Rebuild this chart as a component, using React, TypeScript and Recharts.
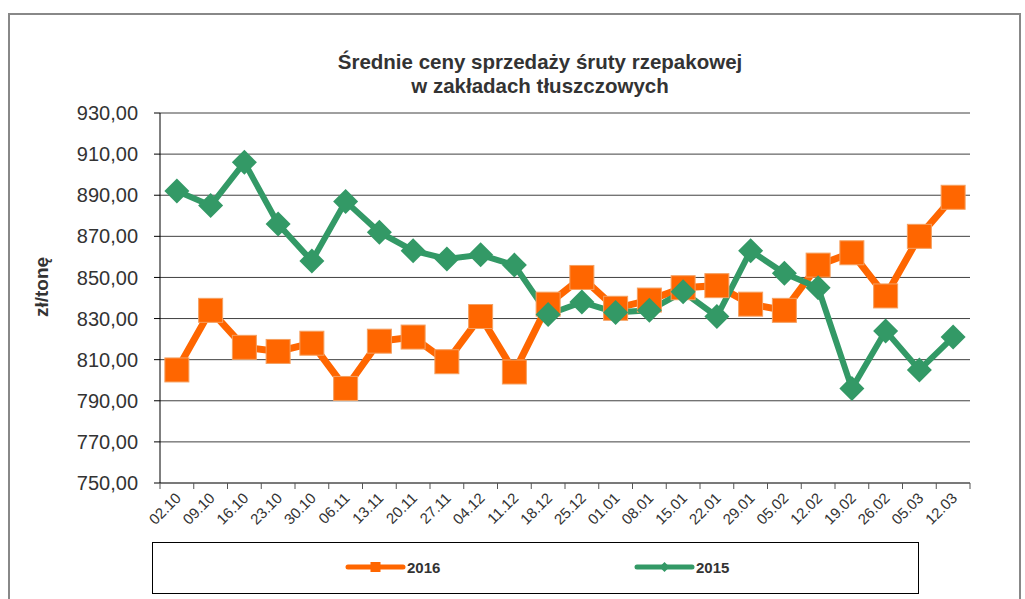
import { LineChart, Line, XAxis, YAxis, CartesianGrid } from 'recharts';

// Średnie ceny sprzedaży śruty rzepakowej (zł/tonę)
const categories = [
  '02.10', '09.10', '16.10', '23.10', '30.10', '06.11', '13.11', '20.11',
  '27.11', '04.12', '11.12', '18.12', '25.12', '01.01', '08.01', '15.01',
  '22.01', '29.01', '05.02', '12.02', '19.02', '26.02', '05.03', '12.03',
];
const values2016 = [
  805, 834, 816, 814, 818, 796, 819, 821, 809, 831, 804, 837,
  850, 835, 839, 845, 846, 837, 834, 856, 862, 841, 870, 889,
];
const values2015 = [
  892, 885, 906, 876, 858, 887, 872, 863, 859, 861, 856, 832,
  838, 833, 834, 843, 831, 863, 852, 845, 796, 824, 805, 821,
];
const yTicks = [750, 770, 790, 810, 830, 850, 870, 890, 910, 930];

const ORANGE = '#FF6600';
const GREEN = '#339966';
const FONT = 'Arial, "Liberation Sans", sans-serif';

const W = 1025;
const H = 599;
const PLOT_LEFT = 160;
const PLOT_RIGHT = 970;
const BAND = (PLOT_RIGHT - PLOT_LEFT) / categories.length;

const chartData = categories.map((c, i) => ({
  date: c,
  v2016: values2016[i],
  v2015: values2015[i],
}));

const fmt = (v: number) => v.toFixed(2).replace('.', ',');

function SquareDot(props: any) {
  const { cx, cy, index } = props;
  if (cx == null || cy == null) return null;
  return (
    <rect
      key={`sq-${index}`}
      x={cx - 12}
      y={cy - 12}
      width={24}
      height={24}
      fill={ORANGE}
      stroke="#F5A060"
      strokeWidth={1}
    />
  );
}

function DiamondDot(props: any) {
  const { cx, cy, index } = props;
  if (cx == null || cy == null) return null;
  const r = 12.5;
  return (
    <polygon
      key={`dm-${index}`}
      points={`${cx},${cy - r} ${cx + r},${cy} ${cx},${cy + r} ${cx - r},${cy}`}
      fill={GREEN}
    />
  );
}

function DateTick(props: any) {
  const { x, y, payload, index } = props;
  const last = index === categories.length - 1;
  return (
    <g transform={`translate(${x},${y})`}>
      <line x1={-BAND / 2} y1={0} x2={-BAND / 2} y2={6} stroke="#555" />
      {last && <line x1={BAND / 2} y1={0} x2={BAND / 2} y2={6} stroke="#555" />}
      <text
        x={5}
        y={16}
        textAnchor="end"
        transform="rotate(-45, 5, 16)"
        fontSize={15}
        fontFamily={FONT}
        fill="#333"
      >
        {payload.value}
      </text>
    </g>
  );
}

export default function App() {
  return (
    <div
      style={{
        position: 'absolute',
        left: 0,
        top: 0,
        width: W,
        height: H,
        overflow: 'hidden',
        background: '#fff',
        fontFamily: FONT,
      }}
    >
      {/* ramka wykresu */}
      <div
        style={{
          position: 'absolute',
          left: 8,
          top: 13,
          width: 1013,
          height: 700,
          border: '2px solid #888',
          boxSizing: 'border-box',
        }}
      />

      <div
        style={{
          position: 'absolute',
          left: 0,
          top: 50,
          width: 1080,
          textAlign: 'center',
          fontSize: 20.5,
          lineHeight: '24px',
          fontWeight: 'bold',
          color: '#333',
        }}
      >
        Średnie ceny sprzedaży śruty rzepakowej
        <br />
        w zakładach tłuszczowych
      </div>

      <div
        style={{
          position: 'absolute',
          left: 42,
          top: 287,
          transform: 'translate(-50%, -50%) rotate(-90deg)',
          fontSize: 19,
          fontWeight: 'bold',
          color: '#333',
          whiteSpace: 'nowrap',
        }}
      >
        zł/tonę
      </div>

      <div style={{ position: 'absolute', left: 0, top: 0 }}>
        <LineChart
          width={W}
          height={H}
          data={chartData}
          margin={{ top: 113, right: W - PLOT_RIGHT, bottom: 56, left: 10 }}
        >
          <CartesianGrid horizontal vertical={false} stroke="#404040" />
          <XAxis
            dataKey="date"
            height={60}
            padding={{ left: BAND / 2, right: BAND / 2 }}
            stroke="#555"
            tickSize={0}
            tickMargin={0}
            tick={<DateTick />}
            interval={0}
          />
          <YAxis
            width={150}
            domain={[750, 930]}
            ticks={yTicks}
            tickFormatter={fmt}
            stroke="#000"
            tickSize={6}
            tickMargin={16}
            tick={{ fontSize: 20, fill: '#333', fontFamily: FONT }}
          />
          <Line
            dataKey="v2016"
            name="2016"
            type="linear"
            stroke={ORANGE}
            strokeWidth={7}
            dot={<SquareDot />}
            activeDot={false}
            isAnimationActive={false}
          />
          <Line
            dataKey="v2015"
            name="2015"
            type="linear"
            stroke={GREEN}
            strokeWidth={6}
            dot={<DiamondDot />}
            activeDot={false}
            isAnimationActive={false}
          />
        </LineChart>
      </div>

      {/* legenda */}
      <div
        style={{
          position: 'absolute',
          left: 152,
          top: 542,
          width: 767,
          height: 52,
          border: '1px solid #000',
          boxSizing: 'border-box',
        }}
      >
        <svg width={765} height={50} style={{ position: 'absolute', left: 0, top: 0 }}>
          <g transform="translate(195,24)">
            <line x1={0} y1={0} x2={55} y2={0} stroke={ORANGE} strokeWidth={5} strokeLinecap="round" />
            <rect x={22.5} y={-5} width={10} height={10} fill={ORANGE} />
            <text x={59} y={6} fontSize={15} fontWeight="bold" fill="#333" fontFamily={FONT}>
              2016
            </text>
          </g>
          <g transform="translate(484,24)">
            <line x1={0} y1={0} x2={55} y2={0} stroke={GREEN} strokeWidth={5} strokeLinecap="round" />
            <polygon points="27.5,-5 32.5,0 27.5,5 22.5,0" fill={GREEN} />
            <text x={59} y={6} fontSize={15} fontWeight="bold" fill="#333" fontFamily={FONT}>
              2015
            </text>
          </g>
        </svg>
      </div>
    </div>
  );
}
